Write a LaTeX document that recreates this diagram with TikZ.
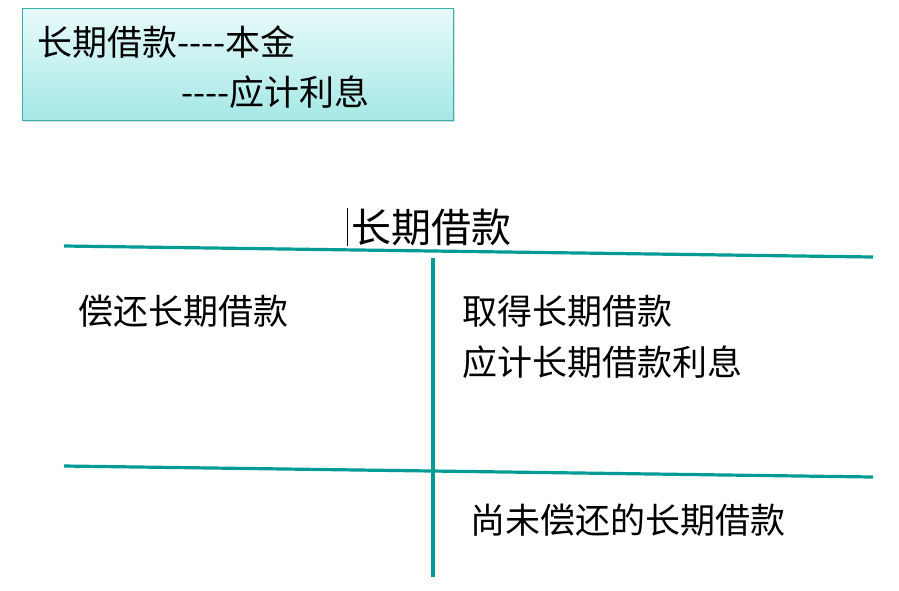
\documentclass[tikz,border=0pt]{standalone}
\usepackage{fontspec}
\setmainfont{Noto Sans CJK SC}
\usepackage{tikz}
\usetikzlibrary{positioning}
\usetikzlibrary{shadows}
\usepackage{xcolor}
\definecolor{teal}{RGB}{0,155,150}
\definecolor{boxtop}{RGB}{232,250,250}
\definecolor{boxbot}{RGB}{165,232,230}

\begin{document}
\begin{tikzpicture}[
		x=1pt, y=-1pt,
		box/.style = {rectangle, draw=teal!80, thick, top color=boxtop, bottom color=boxbot,
			drop shadow={shadow xshift=2pt, shadow yshift=-2pt, opacity=0.25},
			minimum width=431, minimum height=112, inner sep=0},
		txt/.style = {anchor=west, inner sep=0, font=\fontsize{35}{40}\selectfont},
		big/.style = {anchor=west, inner sep=0, font=\fontsize{40}{46}\selectfont},
		t/.style = {draw=teal, line width=3.2pt},
		]
		\useasboundingbox (0,0) rectangle (899,590);
		
		% === === Nodes === ===
		\node[box, anchor=north west]	(box)	at	(22, 8)	{};
		\node[txt]	(sub1)	at	(37, 42)	{长期借款-{}-{}-{}-本金};
		\node[txt]	(sub2)	at	(181, 92)	{-{}-{}-{}-应计利息};
		\node[big]	(title)	at	(351, 227)	{长期借款};
		\node[txt]	(debit)	at	(78, 311)	{偿还长期借款};
		\node[txt]	(credit1)	at	(462, 311)	{取得长期借款};
		\node[txt]	(credit2)	at	(462, 362)	{应计长期借款利息};
		\node[txt]	(balance)	at	(470, 520)	{尚未偿还的长期借款};
		
		\coordinate	(topL)	at	(64, 246);
		\coordinate	(topR)	at	(873, 257);
		\coordinate	(botL)	at	(64, 466);
		\coordinate	(botR)	at	(873, 477);
		\coordinate	(midT)	at	(433, 258);
		\coordinate	(midB)	at	(433, 577);
		
		% === === Lines === ===
		\draw[black, thin]	(title.west)	++(-4, -19)	--	++(0, 38);
		\draw[t]	(topL)	--	(topR);
		\draw[t]	(botL)	--	(botR);
		\draw[t]	(midT)	--	(midB);
		
	\end{tikzpicture}
\end{document}
